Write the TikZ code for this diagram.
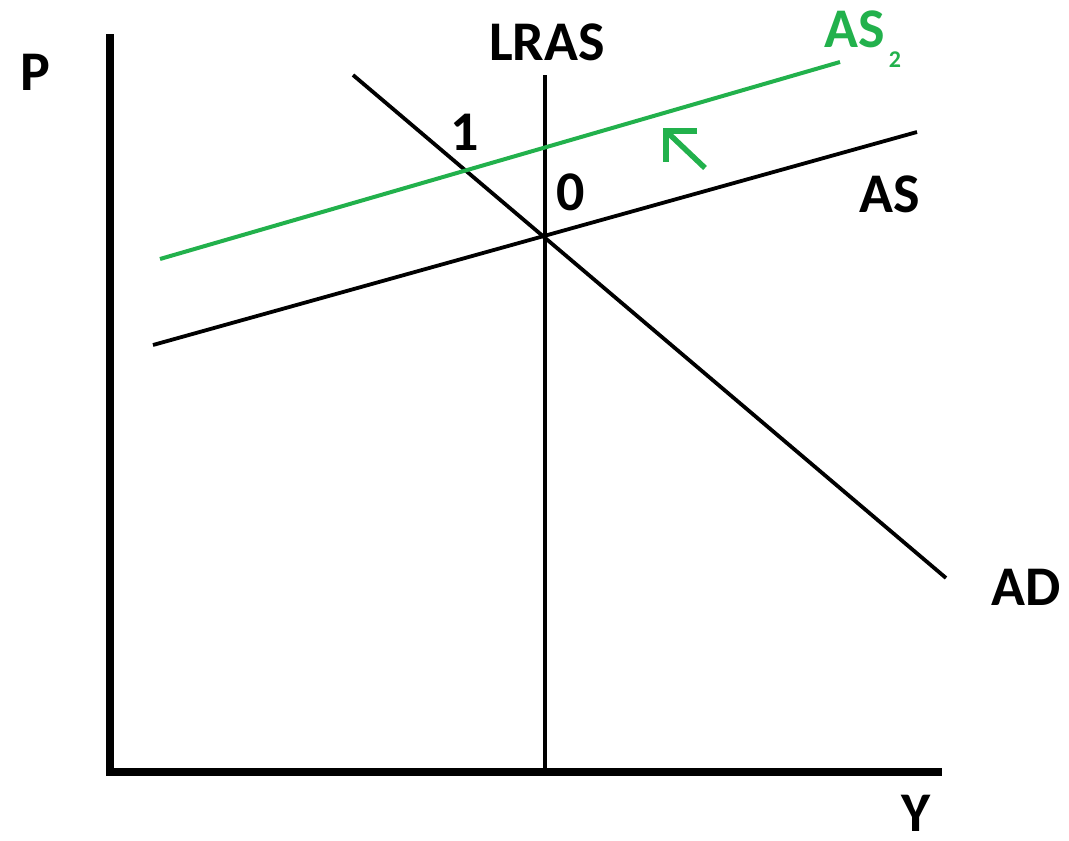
\documentclass[tikz,border=0pt]{standalone}
\usepackage{fontspec}
\setmainfont{Carlito}
\definecolor{paintgreen}{RGB}{34,177,76}
\begin{document}
\begin{tikzpicture}[x=1pt,y=-1pt,
  lbl/.style={anchor=base,inner sep=0pt,font=\fontsize{56}{60}\selectfont\bfseries},
  sublbl/.style={anchor=base,inner sep=0pt,font=\fontsize{24}{28}\selectfont\bfseries},
  axis/.style={line width=8.5pt},
  curve/.style={line width=3.8pt},
  greencurve/.style={line width=4pt,draw=paintgreen},
  shiftarrow/.style={line width=5.5pt,draw=paintgreen}]
\useasboundingbox (0,0) rectangle (1069,841);
% coordinates
\coordinate (ytop) at (110,34);
\coordinate (origin) at (110,772);
\coordinate (xend) at (942,772);
\coordinate (lrastop) at (545,75);
\coordinate (lrasbot) at (545,772);
\coordinate (ad1) at (353,75);
\coordinate (ad2) at (946,578);
\coordinate (as1) at (153,345);
\coordinate (as2) at (917,132);
\coordinate (gas1) at (160,259);
\coordinate (gas2) at (840,62);
\coordinate (arrtail) at (705,168);
\coordinate (arrhead) at (666,131);
\coordinate (armA) at (697,131);
\coordinate (armB) at (666,162);
% axes
\draw[axis] (ytop) -- (origin) -- (xend);
% curves
\draw[curve] (lrastop) -- (lrasbot);
\draw[curve] (ad1) -- (ad2);
\draw[curve] (as1) -- (as2);
\draw[greencurve] (gas1) -- (gas2);
% shift arrow
\draw[shiftarrow] (arrtail) -- (arrhead);
\draw[shiftarrow,line join=miter] (armA) -- (arrhead) -- (armB);
% labels
\node[lbl] (lp) at (35,90) {P};
\node[lbl] (llras) at (547,60) {LRAS};
\node[lbl,text=paintgreen] (las2) at (855,47) {AS};
\node[sublbl,text=paintgreen] (las2sub) at (895,67) {2};
\node[lbl] (lone) at (465,150) {1};
\node[lbl] (lzero) at (571,210) {0};
\node[lbl] (las) at (890,212) {AS};
\node[lbl] (lad) at (1026,605) {AD};
\node[lbl] (ly) at (916,831) {Y};
\end{tikzpicture}
\end{document}
